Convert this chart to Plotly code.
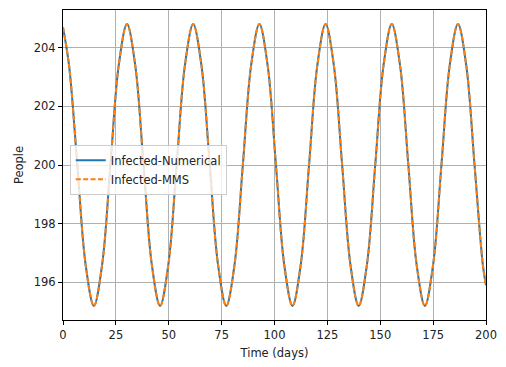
import plotly.graph_objects as go

# Values (peaks, troughs, midline and eighth-period points)
time_days = [0.0, 2.86, 6.77, 10.69, 14.60, 18.51, 22.43, 26.34,
             30.25, 34.16, 38.08, 41.99, 45.90, 49.81, 53.73, 57.64,
             61.55, 65.46, 69.38, 73.29, 77.20, 81.11, 85.03, 88.94,
             92.85, 96.76, 100.68, 104.59, 108.50, 112.41, 116.33, 120.24,
             124.15, 128.06, 131.98, 135.89, 139.80, 143.71, 147.63, 151.54,
             155.45, 159.36, 163.28, 167.19, 171.10, 175.01, 178.93, 182.84,
             186.75, 190.66, 194.58, 198.49, 200.0]
infected_numerical = [204.69, 203.39, 200.0, 196.61, 195.2, 196.61, 200.0, 203.39,
                      204.8, 203.39, 200.0, 196.61, 195.2, 196.61, 200.0, 203.39,
                      204.8, 203.39, 200.0, 196.61, 195.2, 196.61, 200.0, 203.39,
                      204.8, 203.39, 200.0, 196.61, 195.2, 196.61, 200.0, 203.39,
                      204.8, 203.39, 200.0, 196.61, 195.2, 196.61, 200.0, 203.39,
                      204.8, 203.39, 200.0, 196.61, 195.2, 196.61, 200.0, 203.39,
                      204.8, 203.39, 200.0, 196.61, 195.9]
infected_mms = list(infected_numerical)

x_ticks = [0, 25, 50, 75, 100, 125, 150, 175, 200]
y_ticks = [196, 198, 200, 202, 204]

font = dict(family="DejaVu Sans", size=11.5, color="#222222")

fig = go.Figure()
fig.add_trace(go.Scatter(x=time_days, y=infected_numerical, mode="lines",
                         name="Infected-Numerical",
                         line=dict(color="#1f77b4", width=2, shape="spline", smoothing=1.0)))
fig.add_trace(go.Scatter(x=time_days, y=infected_mms, mode="lines",
                         name="Infected-MMS",
                         line=dict(color="#ff7f0e", width=2, dash="5px,2.4px",
                                   shape="spline", smoothing=1.0)))

axis_common = dict(showline=True, linecolor="black", linewidth=1, mirror=True,
                   ticks="outside", ticklen=4, tickcolor="black", tickwidth=1,
                   showgrid=True, gridcolor="#b0b0b0", gridwidth=1,
                   zeroline=False, tickfont=font)

fig.update_xaxes(range=[0, 200], tickvals=x_ticks,
                 title=dict(text="Time (days)", font=font, standoff=8), **axis_common)
fig.update_yaxes(range=[194.72, 205.28], tickvals=y_ticks,
                 title=dict(text="People", font=font, standoff=7), **axis_common)

fig.update_layout(
    width=506, height=367,
    margin=dict(l=63, r=14, t=9, b=39),
    plot_bgcolor="white", paper_bgcolor="white",
    font=font,
    showlegend=True,
    legend=dict(x=0.016, y=0.565, xanchor="left", yanchor="top",
                bgcolor="rgba(255,255,255,0.8)", bordercolor="#cccccc", borderwidth=1,
                font=font, tracegroupgap=0),
)

fig.write_html("out.html")
